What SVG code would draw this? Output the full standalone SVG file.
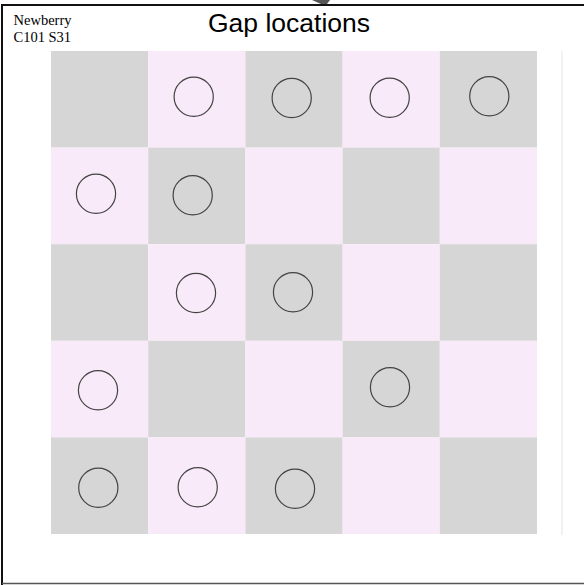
<svg xmlns="http://www.w3.org/2000/svg" width="584" height="585" viewBox="0 0 584 585">
<style>
.g{fill:#d6d6d6}
.p{fill:#f8eaf8}
.c{fill:none;stroke:#444;stroke-width:1.2}
.lbl{font-family:"Liberation Serif","Times New Roman",serif;font-size:14.5px;fill:#000}
.ttl{font-family:"Liberation Sans",Arial,sans-serif;font-size:26.5px;fill:#000}
</style>
<rect x="0" y="0" width="584" height="585" fill="#fff"/>
<g id="frame">
<path d="M2,585 V5 H584" fill="none" stroke="#111" stroke-width="2"/>
<path d="M2,583.5 H584" fill="none" stroke="#555" stroke-width="1.5"/>
<polygon points="312,0 330,0 327,4 321,4" fill="#555"/>
<line x1="562" y1="51" x2="562" y2="535" stroke="#e4e4e4" stroke-width="1"/>
</g>
<g id="labels">
<text class="lbl" x="13.5" y="25">Newberry</text>
<text class="lbl" x="13.5" y="42">C101 S31</text>
<text class="ttl" x="208" y="31.7">Gap locations</text>
</g>
<g id="grid">
<rect class="g" x="51" y="51" width="97.2" height="96.6"/>
<rect class="p" x="148.2" y="51" width="97.2" height="96.6"/>
<rect class="g" x="245.4" y="51" width="97.2" height="96.6"/>
<rect class="p" x="342.6" y="51" width="97.2" height="96.6"/>
<rect class="g" x="439.8" y="51" width="97.2" height="96.6"/>
<rect class="p" x="51" y="147.6" width="97.2" height="96.6"/>
<rect class="g" x="148.2" y="147.6" width="97.2" height="96.6"/>
<rect class="p" x="245.4" y="147.6" width="97.2" height="96.6"/>
<rect class="g" x="342.6" y="147.6" width="97.2" height="96.6"/>
<rect class="p" x="439.8" y="147.6" width="97.2" height="96.6"/>
<rect class="g" x="51" y="244.2" width="97.2" height="96.6"/>
<rect class="p" x="148.2" y="244.2" width="97.2" height="96.6"/>
<rect class="g" x="245.4" y="244.2" width="97.2" height="96.6"/>
<rect class="p" x="342.6" y="244.2" width="97.2" height="96.6"/>
<rect class="g" x="439.8" y="244.2" width="97.2" height="96.6"/>
<rect class="p" x="51" y="340.8" width="97.2" height="96.6"/>
<rect class="g" x="148.2" y="340.8" width="97.2" height="96.6"/>
<rect class="p" x="245.4" y="340.8" width="97.2" height="96.6"/>
<rect class="g" x="342.6" y="340.8" width="97.2" height="96.6"/>
<rect class="p" x="439.8" y="340.8" width="97.2" height="96.6"/>
<rect class="g" x="51" y="437.4" width="97.2" height="96.6"/>
<rect class="p" x="148.2" y="437.4" width="97.2" height="96.6"/>
<rect class="g" x="245.4" y="437.4" width="97.2" height="96.6"/>
<rect class="p" x="342.6" y="437.4" width="97.2" height="96.6"/>
<rect class="g" x="439.8" y="437.4" width="97.2" height="96.6"/>
</g>
<g id="gaps">
<g id="gap-r0c1"><circle class="c" cx="193.7" cy="96.7" r="19.6"/></g>
<g id="gap-r0c2"><circle class="c" cx="291.7" cy="98" r="19.6"/></g>
<g id="gap-r0c3"><circle class="c" cx="389.7" cy="97.7" r="19.6"/></g>
<g id="gap-r0c4"><circle class="c" cx="489.3" cy="96.3" r="19.6"/></g>
<g id="gap-r1c0"><circle class="c" cx="96" cy="193.7" r="19.6"/></g>
<g id="gap-r1c1"><circle class="c" cx="192.7" cy="195.3" r="19.6"/></g>
<g id="gap-r2c1"><circle class="c" cx="196" cy="293" r="19.6"/></g>
<g id="gap-r2c2"><circle class="c" cx="293" cy="292.3" r="19.6"/></g>
<g id="gap-r3c0"><circle class="c" cx="98" cy="390.3" r="19.6"/></g>
<g id="gap-r3c3"><circle class="c" cx="390" cy="387.3" r="19.6"/></g>
<g id="gap-r4c0"><circle class="c" cx="98.3" cy="487.7" r="19.6"/></g>
<g id="gap-r4c1"><circle class="c" cx="197.7" cy="487.3" r="19.6"/></g>
<g id="gap-r4c2"><circle class="c" cx="295" cy="488.7" r="19.6"/></g>
</g>
</svg>
